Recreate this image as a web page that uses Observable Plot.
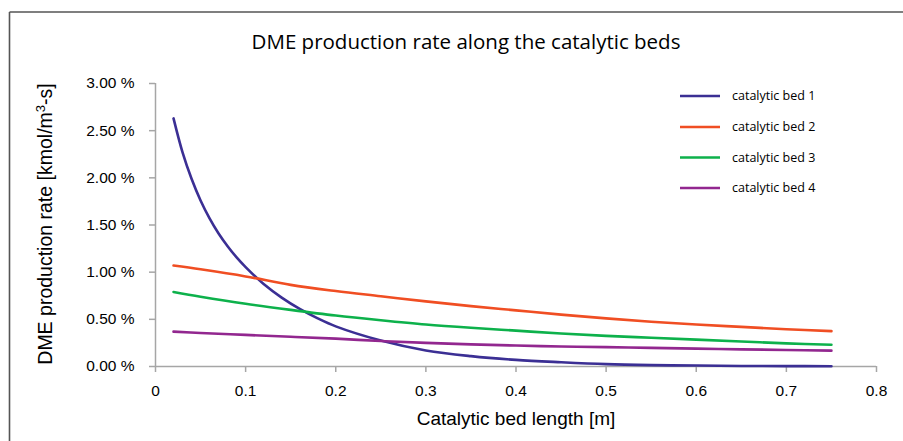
<!DOCTYPE html>
<html><head><meta charset="utf-8">
<script src="https://cdn.jsdelivr.net/npm/d3@7"></script>
<script src="https://cdn.jsdelivr.net/npm/@observablehq/plot@0.6"></script>
<style>html,body{margin:0;padding:0;background:#fff} svg{display:block}</style>
</head><body><div id="chart"></div>
<script>
const chartTitle = "DME production rate along the catalytic beds";
const xTitle = "Catalytic bed length [m]";
const seriesNames = ["catalytic bed 1", "catalytic bed 2", "catalytic bed 3", "catalytic bed 4"];
const seriesColors = ["#3b2f94", "#f04e23", "#0db14b", "#92278f"];

const xBed1 = [0.02,0.03,0.04,0.05,0.06,0.07,0.08,0.09,0.10,0.12,0.14,0.16,0.18,0.20,0.25,0.30,0.35,0.40,0.45,0.50,0.55,0.60,0.65,0.70,0.75];
const bed1  = [2.63,2.27,1.99,1.76,1.57,1.41,1.275,1.157,1.054,0.874,0.73,0.61,0.51,0.425,0.275,0.17,0.11,0.07,0.045,0.025,0.015,0.01,0.006,0.004,0.003];

const xBeds = [0.02,0.05,0.10,0.15,0.20,0.25,0.30,0.35,0.40,0.45,0.50,0.55,0.60,0.65,0.70,0.75];
const bed2  = [1.07,1.03,0.955,0.865,0.80,0.745,0.69,0.64,0.595,0.55,0.51,0.475,0.445,0.42,0.395,0.375];
const bed3  = [0.79,0.74,0.665,0.60,0.54,0.49,0.445,0.41,0.38,0.35,0.325,0.305,0.285,0.265,0.245,0.23];
const bed4  = [0.37,0.355,0.335,0.315,0.295,0.27,0.25,0.235,0.222,0.212,0.205,0.197,0.19,0.182,0.175,0.168];

const yTicks = [0, 0.5, 1, 1.5, 2, 2.5, 3];
const yTickLabels = ["0.00 %","0.50 %","1.00 %","1.50 %","2.00 %","2.50 %","3.00 %"];
const xTicks = [0, 0.1, 0.2, 0.3, 0.4, 0.5, 0.6, 0.7, 0.8];
const xTickLabels = ["0","0.1","0.2","0.3","0.4","0.5","0.6","0.7","0.8"];

const rows = [];
xBed1.forEach((x, i) => rows.push({series: seriesNames[0], x, y: bed1[i]}));
[bed2, bed3, bed4].forEach((vals, k) => xBeds.forEach((x, i) => rows.push({series: seriesNames[k + 1], x, y: vals[i]})));

const axisColor = "#a6a6a6";
const plot = Plot.plot({
  width: 903, height: 441,
  marginLeft: 155, marginRight: 27, marginTop: 83, marginBottom: 75,
  style: {fontFamily: "'Liberation Sans', Arial, sans-serif", fontSize: "15.5px", background: "white", color: "black", overflow: "visible"},
  x: {domain: [0, 0.8]},
  y: {domain: [0, 3]},
  color: {domain: seriesNames, range: seriesColors},
  marks: [
    Plot.ruleY([0], {stroke: axisColor, strokeWidth: 1.5}),
    Plot.ruleX([0], {stroke: axisColor, strokeWidth: 1.5}),
    Plot.axisY({ticks: yTicks, tickFormat: d => yTickLabels[yTicks.indexOf(d)], tickSize: 6, tickPadding: 15, stroke: axisColor, strokeWidth: 1.5, fill: "black", label: null, fontSize: 15.5}),
    Plot.axisX({ticks: xTicks, tickFormat: d => xTickLabels[xTicks.indexOf(d)], tickSize: 6, tickPadding: 12, stroke: axisColor, strokeWidth: 1.5, fill: "black", label: null, fontSize: 15.5}),
    Plot.line(rows, {x: "x", y: "y", z: "series", stroke: "series", strokeWidth: 2.6, curve: "catmull-rom"})
  ]
});
document.getElementById("chart").appendChild(plot);

const svg = d3.select(plot);
// frame (top and left edges)
svg.append("line").attr("x1", 9.5).attr("x2", 903).attr("y1", 12).attr("y2", 12).attr("stroke", "#555").attr("stroke-width", 1.6);
svg.append("line").attr("x1", 9.5).attr("x2", 9.5).attr("y1", 12).attr("y2", 441).attr("stroke", "#555").attr("stroke-width", 1.6);

// title
svg.append("text").attr("x", 466).attr("y", 49).attr("text-anchor", "middle")
  .attr("font-family", "'Open Sans', sans-serif").attr("font-size", 20.5).attr("fill", "black").text(chartTitle);

// y title
const yt = svg.append("text").attr("transform", "translate(52,224) rotate(-90)").attr("text-anchor", "middle")
  .attr("font-family", "'Liberation Sans', Arial, sans-serif").attr("font-size", 19.5).attr("fill", "black");
yt.append("tspan").text("DME production rate [kmol/m");
yt.append("tspan").attr("font-size", 13).attr("dy", -7).text("3");
yt.append("tspan").attr("dy", 7).text("-s]");

// x title
svg.append("text").attr("x", 516).attr("y", 425).attr("text-anchor", "middle")
  .attr("font-family", "'Liberation Sans', Arial, sans-serif").attr("font-size", 19).attr("fill", "black").text(xTitle);

// legend
const legendY = [96, 127, 157.5, 188];
seriesNames.forEach((name, i) => {
  svg.append("line").attr("x1", 680).attr("x2", 720).attr("y1", legendY[i]).attr("y2", legendY[i])
    .attr("stroke", seriesColors[i]).attr("stroke-width", 2.6);
  svg.append("text").attr("x", 732).attr("y", legendY[i]).attr("dy", "0.35em").attr("text-anchor", "start")
    .attr("font-family", "'Open Sans', sans-serif").attr("font-size", 12.5).attr("fill", "black").text(name);
});
</script>
</body></html>
